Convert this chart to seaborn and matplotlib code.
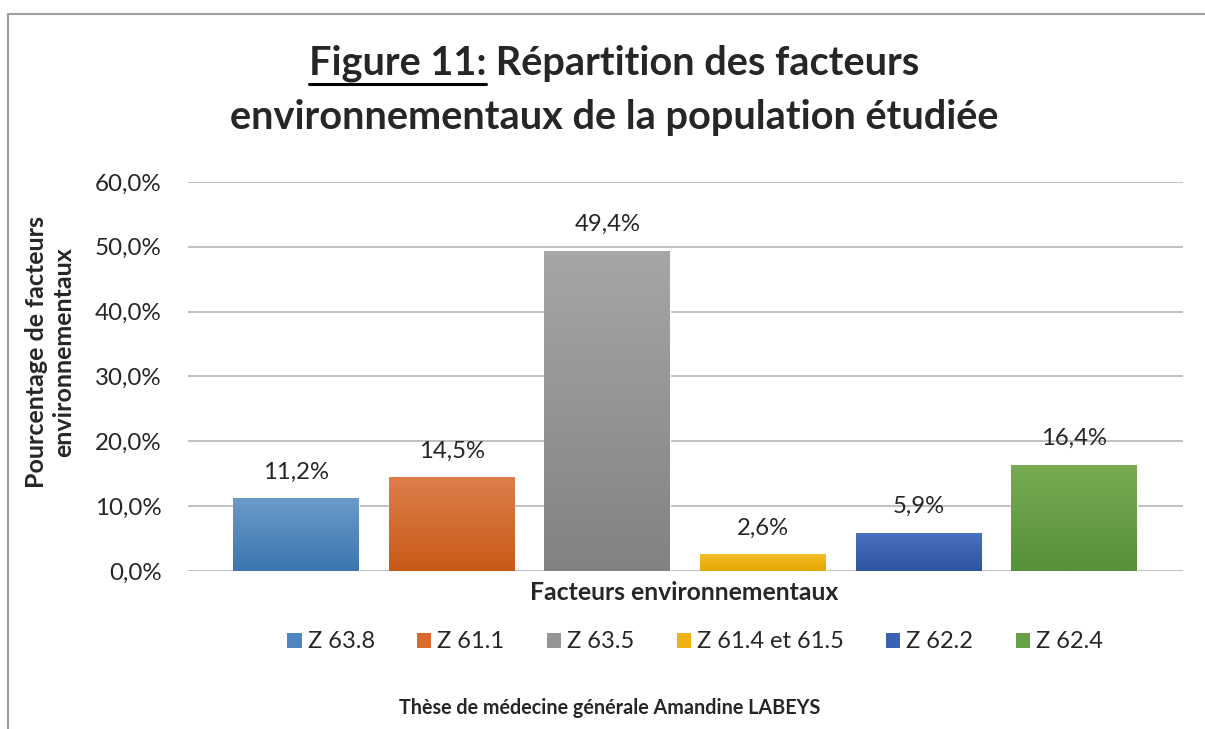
import matplotlib
matplotlib.use("Agg")
import matplotlib.pyplot as plt
import matplotlib.colors as mcolors
from matplotlib.patches import Patch
from matplotlib.lines import Line2D
import numpy as np
import pandas as pd
import seaborn as sns

# data
codes = ["Z 63.8", "Z 61.1", "Z 63.5", "Z 61.4 et 61.5", "Z 62.2", "Z 62.4"]
pcts = [11.2, 14.5, 49.4, 2.6, 5.9, 16.4]
yticks = [0, 10, 20, 30, 40, 50, 60]

# gradient colours (top, bottom) per series, Excel style
tops = ["#6a9ac8", "#de7e4c", "#a6a6a6", "#f5be2a", "#4a70bf", "#78ab52"]
bottoms = ["#3d76b1", "#c85a18", "#828282", "#e6a500", "#2c559f", "#56903a"]
mids = ["#4f86c0", "#d86a2a", "#959595", "#f0b210", "#3a62b0", "#67a046"]

sns.set_style("white")
plt.rcParams["font.family"] = ["Lato", "DejaVu Sans"]

W, H = 1205, 729
fig = plt.figure(figsize=(W / 100, H / 100), dpi=100)
ax = fig.add_axes([188 / W, 1 - 571 / H, (1183 - 188) / W, (571 - 182) / H])

df = pd.DataFrame({"code": codes, "pct": pcts})
sns.barplot(data=df, x="code", y="pct", hue="code", palette=mids,
            width=0.807, legend=False, ax=ax, zorder=3)

# gradient fill on each bar
for patch, ct, cb in zip(ax.patches, tops, bottoms):
    x0, y0, w, h = patch.get_bbox().bounds
    c1 = np.array(mcolors.to_rgb(ct))
    c2 = np.array(mcolors.to_rgb(cb))
    t = np.linspace(0, 1, 100)[:, None]
    grad = (c1 * (1 - t) + c2 * t)[:, None, :]
    im = ax.imshow(grad, extent=[x0, x0 + w, 0, h], aspect="auto",
                   origin="upper", zorder=4)
    im.set_clip_path(patch)

ax.set_xlim(-0.694, 5.70)
ax.set_ylim(0, 60)
ax.set_yticks(yticks)
ax.set_yticklabels([f"{v},0%" for v in yticks], fontsize=17.4)
ax.set_xticks([])
ax.set_xlabel("")
ax.set_ylabel("")
ax.tick_params(axis="y", length=0, pad=19)
ax.grid(axis="y", color="#c0c0c0", linewidth=1.4, zorder=0)
for s in ax.spines.values():
    s.set_visible(False)

for i, v in enumerate(pcts):
    ax.text(i, v + 2.4, f"{v:.1f}%".replace(".", ","), ha="center",
            va="bottom", fontsize=17.2)

# axis titles
fig.text(684 / W, 1 - 592 / H, "Facteurs environnementaux", ha="center",
         va="center", fontsize=17.8, fontweight="bold")
fig.text(50 / W, 1 - 352 / H, "Pourcentage de facteurs\nenvironnementaux",
         ha="center", va="center", rotation=90, fontsize=18,
         fontweight="bold", linespacing=1.2)

# title with underlined "Figure 11:"
fig.canvas.draw()
r = fig.canvas.get_renderer()
tsize = 28.6
t1 = fig.text(0, 1 - 63 / H, "Figure 11:", fontsize=tsize, fontweight="bold",
              va="center", ha="left")
t2 = fig.text(0, 1 - 63 / H, " Répartition des facteurs", fontsize=tsize,
              fontweight="bold", va="center", ha="left")
w1 = t1.get_window_extent(r).width
w2 = t2.get_window_extent(r).width
x_start = (614 - (w1 + w2) / 2) / W
t1.set_x(x_start)
t2.set_x(x_start + w1 / W)
bb = t1.get_window_extent(r)
fig.add_artist(Line2D([x_start, x_start + w1 / W], [(bb.y0 - 2) / H] * 2,
                      color="black", linewidth=2.2, transform=fig.transFigure))
fig.text(614 / W, 1 - 117 / H, "environnementaux de la population étudiée",
         fontsize=tsize, fontweight="bold", ha="center", va="center")

# legend
handles = [Patch(facecolor=c, edgecolor="none") for c in mids]
fig.legend(handles, codes, loc="center", bbox_to_anchor=(695 / W, 1 - 642 / H),
           ncol=6, frameon=False, fontsize=17, handlelength=0.6,
           handleheight=0.6, handletextpad=0.25, columnspacing=1.8)

fig.text(610 / W, 1 - 708 / H, "Thèse de médecine générale Amandine LABEYS",
         ha="center", va="center", fontsize=14.2, fontweight="bold")

# chart frame (cropped at right and bottom)
fig.add_artist(Line2D([8 / W, 1], [1 - 14 / H] * 2, color="#a0a0a0",
                      linewidth=1.5, transform=fig.transFigure))
fig.add_artist(Line2D([8 / W] * 2, [0, 1 - 14 / H], color="#a0a0a0",
                      linewidth=1.5, transform=fig.transFigure))

fig.savefig("out.png", dpi=100)
